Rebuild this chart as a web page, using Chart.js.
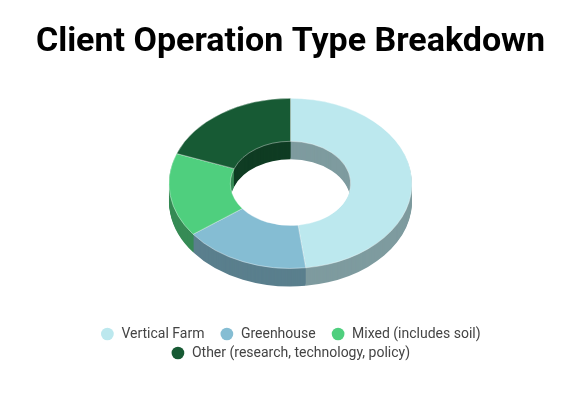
<!DOCTYPE html>
<html>
<head>
  <title>Client Operation Type Breakdown</title>
  <script src="https://cdn.jsdelivr.net/npm/chart.js"></script>
  <style>
    html, body { margin: 0; padding: 0; background: #fff; }
    canvas { display: block; }
  </style>
</head>
<body>
  <canvas id="donut" width="578" height="396"></canvas>

  <script>
    const chartTitle = "Client Operation Type Breakdown";
    const categories = ["Vertical Farm", "Greenhouse", "Mixed (includes soil)", "Other (research, technology, policy)"];
    const shares = [48, 16.8, 15.9, 19.3];
    const topColors = ["#bce8ee", "#85bdd3", "#4fcf7e", "#175a34"];
    const wallColors = ["#7e9b9f", "#5a7f8d", "#368b55", "#0f3c23"];

    const tilt = 0.7;   // vertical squash of the ring
    const depth = 18;   // wall height in px

    function tiltAround(chart, ctx, shift) {
      const { left, right, top, bottom } = chart.chartArea;
      const cx = (left + right) / 2, cy = (top + bottom) / 2;
      ctx.translate(cx, cy + shift);
      ctx.scale(1, tilt);
      ctx.translate(-cx, -cy);
    }

    // draws the walls as a stack of dark rings, then leaves the canvas tilted for the top face
    const tiltPlugin = {
      id: "tilt3d",
      beforeDatasetDraw(chart, args) {
        const ctx = chart.ctx;
        const arcs = args.meta.data;
        for (let off = depth; off > 0; off--) {
          ctx.save();
          tiltAround(chart, ctx, off - depth / 2);
          arcs.forEach((arc, i) => {
            const saved = arc.options;
            arc.options = { ...saved, backgroundColor: wallColors[i], borderWidth: 0 };
            arc.draw(ctx);
            arc.options = saved;
          });
          ctx.restore();
        }
        ctx.save();
        tiltAround(chart, ctx, -depth / 2);
      },
      afterDatasetDraw(chart) {
        chart.ctx.restore();
      }
    };

    new Chart(document.getElementById("donut"), {
      type: "doughnut",
      data: {
        labels: categories,
        datasets: [{
          data: shares,
          backgroundColor: topColors,
          borderColor: "rgba(255,255,255,0.6)",
          borderWidth: 0.75,
          radius: 121.5,
          cutout: "49.5%",
          clip: false
        }]
      },
      options: {
        responsive: false,
        animation: false,
        layout: { padding: { left: 3, bottom: 26 } },
        plugins: {
          tooltip: { enabled: false },
          title: {
            display: true,
            text: chartTitle,
            color: "#000",
            font: { family: "Roboto", size: 34, weight: "700" },
            padding: { top: 22, bottom: 0 }
          },
          legend: {
            position: "bottom",
            labels: {
              color: "#444",
              font: { family: "Roboto", size: 14 },
              usePointStyle: true,
              boxWidth: 14,
              boxHeight: 9,
              padding: 5,
              // extra room between items on a row, the row gap stays tight
              generateLabels(chart) {
                const items = Chart.overrides.doughnut.plugins.legend.labels.generateLabels(chart);
                items.forEach((item, i) => {
                  item.lineWidth = 0;
                  if (i < 2) item.text += "   ";
                });
                return items;
              }
            }
          }
        }
      },
      plugins: [tiltPlugin]
    });
  </script>
</body>
</html>
